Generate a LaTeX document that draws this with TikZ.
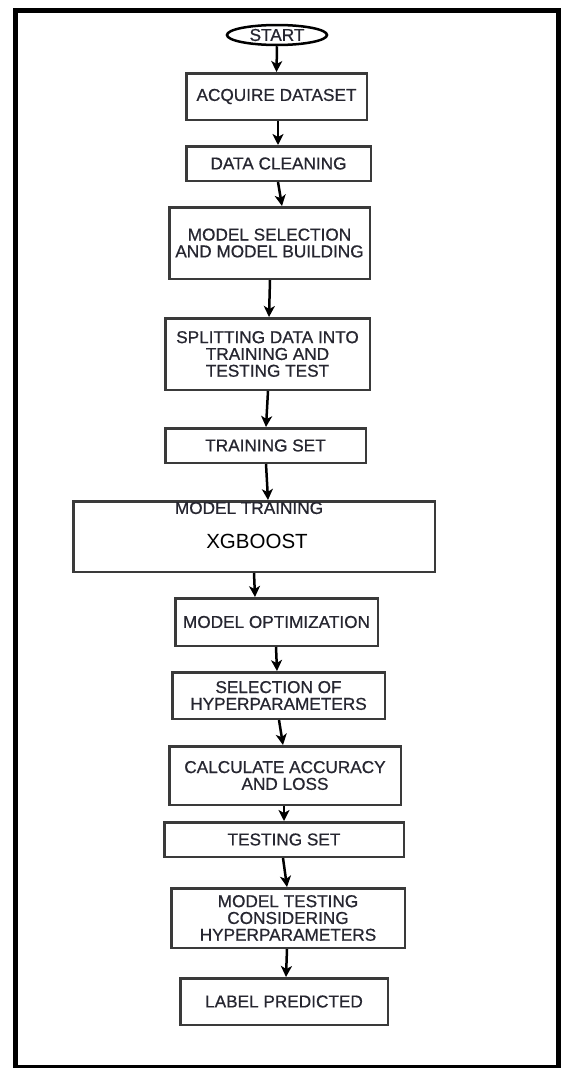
\documentclass[tikz,border=0pt]{standalone}
\usepackage{fontspec}
\setmainfont{Liberation Sans}
\newfontfamily\steplabelfont[FakeBold=0.7]{Liberation Sans}
\usetikzlibrary{arrows.meta,shapes.geometric}
\definecolor{boxline}{HTML}{3A3A3A}
\definecolor{labeltext}{HTML}{262630}
\begin{document}
\begin{tikzpicture}[x=1pt,y=-1pt,
  labelfont/.style={font=\steplabelfont\fontsize{17.2}{16.8}\selectfont},
  stepbox/.style={draw=boxline, line width=2.5pt, rectangle, inner sep=0pt,
    align=center, text=labeltext, labelfont},
  terminal/.style={draw=black, line width=2.5pt, ellipse, inner sep=0pt,
    text=labeltext, labelfont},
  flow/.style={draw=black, line width=2.5pt,
    -{Stealth[length=11pt,width=11pt,inset=3pt]}}]

% page and outer frame
\useasboundingbox (0,0) rectangle (560,1068);
\fill[white] (0,0) rectangle (560,1068);
\draw[line width=5pt] (15,10.5) rectangle (558.5,1067);

% process steps
\node[terminal, minimum width=100pt, minimum height=20pt] (start) at (277,35) {START};
\node[stepbox, minimum width=180.5pt, minimum height=46.5pt] (acq) at (276.5,96.5) {ACQUIRE DATASET};
\node[stepbox, minimum width=184.5pt, minimum height=34.5pt] (clean) at (278.5,163.5) {DATA CLEANING};
\node[stepbox, minimum width=200.5pt, minimum height=71.5pt] (msel) at (269.5,243) {MODEL SELECTION\\AND MODEL BUILDING};
\node[stepbox, minimum width=204.5pt, minimum height=71.5pt] (split) at (267.5,354) {SPLITTING DATA INTO\\TRAINING AND\\TESTING TEST};
\node[stepbox, minimum width=200.5pt, minimum height=34.5pt] (trainset) at (265.5,445.5) {TRAINING SET};
\node[stepbox, minimum width=361.5pt, minimum height=70.5pt] (mtrain) at (254,536.5) {};
\node[text=labeltext, labelfont, inner sep=0pt] (mtraintitle) at (249,508) {MODEL TRAINING};
\node[text=black, font=\fontsize{20.5}{22}\selectfont, inner sep=0pt] (xgb) at (257,541.5) {XGBOOST};
\node[stepbox, minimum width=202.5pt, minimum height=47.5pt] (mopt) at (276.5,622) {MODEL OPTIMIZATION};
\node[stepbox, minimum width=212.5pt, minimum height=46.5pt] (hyper) at (278.5,695.5) {SELECTION OF\\HYPERPARAMETERS};
\node[stepbox, minimum width=231.5pt, minimum height=58.5pt] (calc) at (285,775.5) {CALCULATE ACCURACY\\AND LOSS};
\node[stepbox, minimum width=239.5pt, minimum height=34.5pt] (testset) at (284,839.5) {TESTING SET};
\node[stepbox, minimum width=233.5pt, minimum height=59.5pt] (mtest) at (288,918) {MODEL TESTING\\CONSIDERING\\HYPERPARAMETERS};
\node[stepbox, minimum width=207.5pt, minimum height=46.5pt] (label) at (284,1001.5) {LABEL PREDICTED};

% connectors
\draw[flow] (start.south) -- (acq.north);
\draw[flow] ([xshift=1.5pt]acq.south) -- ([xshift=-0.5pt]clean.north);
\draw[flow] ([xshift=-0.5pt]clean.south) -- ([xshift=12.5pt]msel.north);
\draw[flow] ([xshift=0.5pt]msel.south) -- ([xshift=1.5pt]split.north);
\draw[flow] ([xshift=0.5pt]split.south) -- ([xshift=0.5pt]trainset.north);
\draw[flow] ([xshift=0.5pt]trainset.south) -- ([xshift=14pt]mtrain.north);
\draw[flow] (mtrain.south) -- ([xshift=-21.5pt]mopt.north);
\draw[flow] ([xshift=-0.5pt]mopt.south) -- ([xshift=-1.5pt]hyper.north);
\draw[flow] ([xshift=0.5pt]hyper.south) -- ([xshift=-2pt]calc.north);
\draw[flow] ([xshift=-1pt]calc.south) -- (testset.north);
\draw[flow] ([xshift=-1pt]testset.south) -- ([xshift=-1pt]mtest.north);
\draw[flow] ([xshift=-1pt]mtest.south) -- ([xshift=2pt]label.north);
\end{tikzpicture}
\end{document}
